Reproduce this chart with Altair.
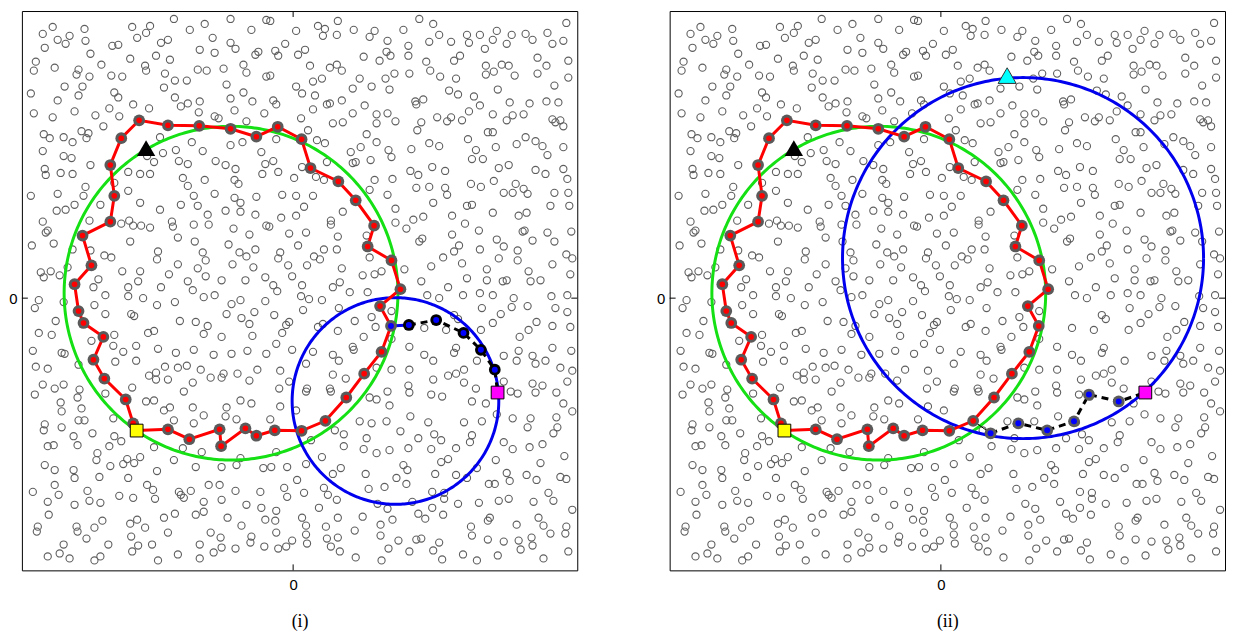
import math
import pandas as pd
import altair as alt

# ---------------- data (data units; x zero at the "0" tick) ----------------
X_DOMAIN = [-273, 286]
Y_DOMAIN = [-274, 289]

bg_tile1 = [(-120,281),(-89,276),(-242,273),(-210,271),(-162,273),(-144,274),(-252,266),(-237,260),(-225,264),(-148,267),(-157,262),(-104,270),(-209,259),(-229,256),(-182,254),(-176,255),(-133,257),(-126,260),(-250,252),(-204,246),(-94,250),(-259,238),(-261,229),(-240,232),(-164,241),(-138,244),(-124,240),(-193,235),(-216,230),(-218,225),(-205,223),(-183,224),(-172,223),(-149,234),(-148,229),(-129,226),(-119,219),(-107,219),(-96,230),(-87,229),(-230,213),(-212,213),(-264,206),(-237,199),(-216,204),(-180,207),(-176,202),(-130,212),(-119,202),(-113,193),(-106,196),(-94,198),(-161,195),(-145,191),(-185,191),(-261,186),(-242,182),(-220,188),(-199,184),(-175,183),(-95,187),(-191,173),(-251,165),(-245,161),(-231,162),(-213,168),(-206,166),(-208,161),(-222,157),(-134,162),(-102,157),(-91,148),(-118,149),(-131,146),(-252,148),(-231,143),(-223,141),(-115,138),(-106,135),(-140,137),(-147,143),(-204,134),(-166,127),(-154,125),(-144,125),(-234,126),(-250,130),(-249,124),(-222,125),(-111,121),(-89,119),(-106,113),(-209,112),(-180,116),(-166,108),(-237,105),(-264,103),(-211,103),(-100,103)]
bg_tile2 = [(-63,281),(-27,280),(-23,279),(45,279),(-42,270),(3,269),(25,274),(32,271),(30,264),(44,265),(61,270),(82,269),(77,263),(95,259),(-81,262),(-63,257),(-58,251),(-8,256),(12,250),(5,245),(-18,249),(-15,244),(-38,245),(-35,248),(-79,247),(71,243),(87,239),(94,248),(98,244),(-50,235),(-47,227),(-70,231),(17,234),(37,232),(44,235),(49,229),(-27,223),(-23,224),(20,218),(29,221),(67,221),(93,221),(-67,215),(3,213),(9,206),(22,204),(60,211),(79,213),(97,210),(-50,207),(-63,201),(-20,199),(-17,195),(-41,198),(34,195),(37,196),(49,199),(72,194),(20,190),(-59,189),(-29,186),(-79,183),(-75,181),(8,181),(60,186),(84,185),(95,186),(40,176),(50,177),(84,176),(-47,178),(15,169),(74,165),(-17,160),(-51,157),(-63,154),(24,159),(32,156),(84,157),(58,147),(68,152),(96,149),(99,142),(-32,147),(-78,138),(-68,134),(-58,130),(-20,138),(-28,135),(78,139),(60,136),(63,137),(34,137),(9,132),(-15,127),(-31,125),(23,122),(1,121),(31,119),(-59,119),(-55,115),(82,119),(100,120),(77,109),(95,104),(-79,105),(-59,101),(-37,102),(-11,104),(3,103),(20,103)]
bg_tile3 = [(127,281),(141,276),(275,277),(111,270),(147,265),(175,265),(188,265),(205,269),(220,265),(234,266),(241,260),(256,267),(261,256),(272,259),(116,254),(137,258),(159,258),(177,257),(201,260),(215,256),(193,251),(116,244),(168,244),(162,239),(134,238),(246,242),(255,234),(277,239),(102,226),(117,226),(138,229),(148,223),(164,221),(194,234),(194,225),(202,228),(210,235),(217,234),(223,224),(246,226),(277,222),(263,214),(206,210),(157,209),(166,205),(182,203),(188,194),(123,198),(124,195),(131,200),(218,197),(238,196),(255,198),(267,197),(177,188),(145,182),(155,178),(159,182),(170,179),(129,177),(125,169),(103,178),(201,185),(215,179),(221,184),(232,185),(261,180),(264,177),(269,179),(272,173),(196,167),(201,167),(176,160),(137,156),(147,153),(119,150),(184,149),(180,140),(191,140),(204,152),(225,155),(234,162),(244,158),(251,153),(256,144),(272,152),(140,132),(153,128),(118,128),(126,124),(207,131),(217,134),(244,129),(254,125),(272,130),(276,120),(124,111),(137,112),(153,111),(155,104),(179,115),(189,112),(202,118),(224,115),(232,110),(212,106),(221,106),(236,105),(263,106),(277,106)]
bg_tile4 = [(-238,88),(-229,89),(-220,94),(-194,94),(-154,96),(-134,89),(-113,94),(-96,93),(-86,84),(-252,77),(-247,68),(-249,66),(-205,78),(-173,75),(-165,78),(-161,73),(-153,73),(-144,71),(-122,77),(-121,72),(-100,74),(-263,53),(-241,55),(-222,49),(-204,48),(-190,43),(-183,41),(-164,57),(-136,47),(-137,39),(-116,61),(-99,57),(-91,46),(-88,38),(-254,26),(-244,27),(-251,21),(-235,23),(-227,31),(-172,27),(-154,27),(-156,17),(-125,24),(-116,34),(-96,30),(-106,17),(-101,8),(-88,22),(-196,19),(-201,11),(-166,11),(-166,2),(-189,3),(-151,0),(-133,11),(-119,-4),(-256,-2),(-260,-10),(-231,-4),(-200,-7),(-189,-16),(-137,-7),(-163,-16),(-160,-18),(-90,1),(-239,-23),(-256,-35),(-243,-37),(-203,-43),(-180,-37),(-146,-35),(-140,-33),(-114,-23),(-98,-24),(-86,-28),(-181,-48),(-171,-54),(-158,-48),(-136,-51),(-118,-55),(-100,-52),(-90,-36),(-262,-53),(-233,-55),(-230,-56),(-216,-67),(-179,-64),(-158,-63),(-259,-69),(-247,-71),(-129,-69),(-116,-70),(-107,-68),(-93,-72),(-145,-78),(-138,-75),(-138,-82),(-126,-82),(-252,-87),(-231,-87),(-101,-85)]
bg_tile5 = [(-53,96),(-85,74),(-68,88),(-53,87),(-38,84),(-12,81),(3,83),(11,92),(50,87),(38,78),(38,74),(-27,73),(-24,72),(-60,70),(-44,64),(-4,65),(13,66),(45,62),(-65,54),(-54,46),(-47,42),(-38,49),(-13,46),(-15,40),(5,53),(31,49),(21,42),(27,39),(44,49),(49,30),(70,23),(82,24),(89,27),(77,41),(74,63),(-61,34),(-40,31),(-5,33),(14,33),(-72,18),(-48,18),(-28,21),(-1,22),(-20,13),(-16,7),(9,13),(-79,3),(-53,-2),(-62,-6),(-28,-3),(8,2),(16,-1),(29,-2),(40,11),(47,16),(57,6),(75,6),(-67,-16),(-52,-20),(-39,-14),(-44,-26),(-19,-17),(10,-12),(46,-10),(-7,-27),(-4,-24),(-11,-35),(25,-29),(30,-26),(45,-33),(62,-23),(79,-19),(83,-29),(71,-39),(99,-13),(-72,-39),(-41,-38),(-17,-46),(-80,-57),(-62,-56),(-46,-53),(-27,-56),(-1,-52),(20,-54),(40,-57),(46,-63),(60,-49),(61,-52),(99,-41),(99,-72),(-83,-80),(-70,-76),(-72,-80),(-56,-76),(-44,-83),(-36,-72),(-13,-73),(13,-66),(-4,-84),(40,-77),(53,-81),(84,-70)]
bg_tile6 = [(141,96),(175,93),(180,94),(201,86),(227,83),(235,86),(259,93),(278,93),(103,90),(121,79),(131,82),(160,83),(173,75),(103,76),(114,70),(127,57),(130,60),(160,64),(187,68),(231,67),(233,68),(256,66),(263,57),(280,67),(205,59),(212,52),(241,58),(226,48),(226,38),(167,53),(162,47),(151,41),(188,49),(207,40),(139,32),(170,35),(112,29),(195,29),(237,27),(261,34),(275,44),(281,40),(279,24),(129,17),(156,11),(175,20),(195,18),(211,17),(215,18),(239,17),(249,18),(135,3),(147,0),(171,3),(188,5),(201,3),(222,0),(260,2),(276,3),(190,-10),(209,-16),(220,-9),(236,-8),(264,-10),(276,-14),(162,-17),(166,-21),(132,-30),(154,-32),(189,-32),(201,-25),(237,-32),(245,-24),(261,-28),(279,-29),(228,-39),(117,-49),(132,-57),(141,-63),(162,-55),(164,-50),(185,-63),(212,-58),(227,-53),(241,-58),(244,-66),(254,-63),(261,-50),(280,-53),(117,-72),(141,-82),(156,-78),(164,-76),(172,-72),(172,-85),(212,-84),(225,-63),(241,-86),(251,-88),(269,-70),(281,-73),(276,-84)]
bg_tile7 = [(-260,-97),(-240,-91),(-217,-100),(-215,-92),(-189,-96),(-162,-90),(-110,-94),(-234,-105),(-233,-114),(-213,-111),(-216,-123),(-210,-123),(-181,-121),(-148,-104),(-140,-103),(-130,-113),(-124,-110),(-101,-110),(-90,-118),(-250,-127),(-251,-133),(-233,-130),(-202,-136),(-180,-139),(-173,-144),(-185,-149),(-100,-126),(-120,-123),(-247,-149),(-241,-148),(-221,-139),(-217,-148),(-140,-150),(-111,-151),(-92,-155),(-197,-156),(-198,-163),(-167,-162),(-171,-167),(-160,-166),(-154,-160),(-120,-163),(-98,-170),(-250,-168),(-240,-173),(-221,-173),(-220,-181),(-195,-180),(-184,-169),(-166,-181),(-137,-174),(-262,-195),(-240,-188),(-236,-198),(-207,-194),(-205,-204),(-194,-206),(-175,-199),(-161,-201),(-147,-188),(-141,-193),(-139,-202),(-115,-195),(-113,-198),(-110,-201),(-103,-194),(-90,-205),(-247,-205),(-220,-208),(-246,-218),(-192,-224),(-200,-231),(-218,-230),(-217,-235),(-257,-230),(-258,-235),(-208,-242),(-164,-227),(-157,-223),(-149,-231),(-130,-221),(-119,-217),(-98,-218),(-90,-215),(-126,-236),(-163,-240),(-231,-248),(-186,-248),(-156,-249),(-142,-248),(-94,-248),(-247,-260),(-235,-257),(-225,-262),(-200,-264),(-194,-260),(-162,-255),(-136,-264),(-116,-258),(-94,-262)]
bg_tile8 = [(-53,-103),(-42,-106),(-67,-110),(-68,-119),(-57,-122),(-23,-122),(-13,-109),(3,-113),(-14,-91),(14,-91),(13,-94),(37,-91),(38,-94),(77,-100),(84,-102),(95,-94),(97,-108),(67,-124),(79,-126),(94,-124),(42,-133),(51,-137),(74,-141),(51,-149),(71,-152),(84,-156),(97,-153),(18,-143),(29,-160),(13,-167),(-6,-170),(-17,-155),(-22,-170),(-30,-171),(-53,-161),(-57,-168),(-72,-170),(-85,-188),(-74,-188),(-58,-194),(-33,-195),(-9,-191),(-6,-200),(11,-196),(4,-183),(40,-177),(48,-171),(73,-177),(76,-192),(92,-190),(31,-191),(35,-198),(44,-203),(-72,-203),(-47,-208),(-32,-211),(-17,-214),(26,-211),(85,-207),(95,-212),(-66,-221),(-52,-229),(-28,-223),(-18,-224),(9,-221),(13,-229),(45,-221),(70,-220),(88,-228),(100,-223),(-17,-236),(-1,-244),(13,-238),(33,-230),(34,-242),(45,-241),(62,-234),(88,-239),(-73,-241),(-83,-236),(-42,-240),(-43,-246),(-72,-251),(-58,-252),(-29,-250),(-15,-252),(-7,-250),(14,-247),(38,-250),(47,-255),(63,-261),(89,-264),(96,-252),(-80,-256)]
bg_tile9 = [(116,-88),(117,-95),(139,-97),(150,-99),(184,-91),(180,-104),(194,-106),(219,-94),(226,-96),(244,-95),(265,-95),(272,-106),(281,-114),(118,-119),(136,-125),(172,-125),(190,-124),(205,-117),(221,-121),(239,-121),(236,-130),(265,-120),(266,-130),(262,-136),(108,-134),(126,-141),(142,-137),(149,-143),(180,-138),(178,-145),(116,-151),(139,-152),(164,-151),(212,-145),(221,-152),(238,-150),(251,-147),(273,-159),(111,-168),(115,-173),(149,-165),(156,-162),(204,-163),(249,-166),(143,-177),(164,-178),(104,-181),(114,-187),(185,-171),(175,-181),(197,-187),(203,-187),(215,-176),(218,-184),(235,-178),(245,-183),(269,-180),(275,-182),(140,-195),(152,-196),(152,-202),(120,-205),(166,-207),(187,-206),(207,-204),(217,-202),(242,-205),(257,-196),(262,-204),(281,-213),(140,-211),(126,-217),(133,-222),(151,-218),(179,-230),(196,-224),(198,-221),(225,-228),(247,-221),(252,-229),(259,-237),(275,-230),(274,-237),(106,-244),(124,-243),(129,-242),(147,-246),(180,-239),(196,-243),(212,-245),(227,-244),(240,-241),(241,-249),(229,-253),(117,-255),(141,-254),(171,-258),(185,-264),(206,-259),(150,-263),(252,-262),(277,-255)]

# red loop (visited nodes), in order, starting after the start square
LOOP_NODES = [(-126,-132),(-104.5,-142),(-74,-132),(-72.5,-149),(-48,-131),(-37,-138.5),(-18.5,-133),(8.5,-133.5),(32.5,-123.5),(53.5,-100),(71.5,-76),(89,-54),(98.5,-28),(87.5,-8),(108,9),(99,38),(75,52),(81.5,73),(63,98.5),(45.5,117.5),(17.5,131),(8.5,160),(-15.5,172.5),(-37,162.5),(-63,170.5),(-94.5,173.5),(-126,174),(-155,179),(-173,161),(-184,134),(-180,103),(-184,77),(-212,63),(-203,33),(-220,14),(-216,-13),(-211,-25),(-191,-39),(-201,-62),(-190,-81),(-168.5,-102),(-161,-126)]

START = (-157.5, -133.3)
TARGET = (205.8, -95)
BLACK_TRIANGLE = (-148, 151)
CYAN_TRIANGLE = (66.7, 224)

# panel (i): escape path leaves the loop at a junction node
JUNCTION_I = (98.5, -28)
PATH_I = [(116.5,-27),(144,-22),(171.5,-35),(189,-52),(203,-72)]
# panel (ii)
JUNCTION_II = (32.5, -123.5)
PATH_II = [(50,-136),(78,-126),(107,-133),(134,-124),(149,-97),(179,-104)]

# circles: centre x, centre y, radius
GREEN_CIRCLE = (-62.5, 5, 168)
BLUE_CIRCLE_I = (103, -103.5, 104)
BLUE_CIRCLE_II = (82.7, 40.3, 181.7)

# ---------------- helpers ----------------
W, H = 559, 563
XS = alt.Scale(domain=X_DOMAIN, nice=False, zero=False)
YS = alt.Scale(domain=Y_DOMAIN, nice=False, zero=False)


def df(pairs):
    return pd.DataFrame({"x": [p[0] for p in pairs],
                         "y": [p[1] for p in pairs],
                         "i": list(range(len(pairs)))})


def circle_df(c, n=360):
    cx, cy, r = c
    pts = [(cx + r * math.cos(2 * math.pi * k / n), cy + r * math.sin(2 * math.pi * k / n)) for k in range(n + 1)]
    return df(pts)


def xaxis(title):
    return alt.Axis(values=[0], ticks=False, tickSize=0, domain=False, grid=False,
                    labelFont="Liberation Sans", labelFontSize=15, labelColor="black",
                    labelPadding=7, title=title, titleFont="Liberation Serif",
                    titleFontSize=18, titleFontWeight="normal", titleColor="black",
                    titlePadding=21)


YAX = alt.Axis(values=[0], ticks=False, tickSize=0, domain=False, grid=False,
               labelFont="Liberation Sans", labelFontSize=15, labelColor="black",
               labelPadding=5, title=None)


def X(title):
    return alt.X("x:Q", scale=XS, axis=xaxis(title))


def Y():
    return alt.Y("y:Q", scale=YS, axis=YAX)


def pts(data, title, **mark):
    return alt.Chart(data).mark_point(opacity=1, **mark).encode(x=X(title), y=Y())


def line(data, title, **mark):
    return alt.Chart(data).mark_line(**mark).encode(x=X(title), y=Y(), order="i:Q")


bg_all = (bg_tile1 + bg_tile2 + bg_tile3 + bg_tile4 + bg_tile5 + bg_tile6 +
          bg_tile7 + bg_tile8 + bg_tile9)
BG = df(bg_all)
ZERO = pd.DataFrame({"x": [0], "y": [0]})


def ticks(title):
    top = alt.Chart(ZERO).mark_rule(color="black", strokeWidth=1).encode(
        x=X(title), y=alt.value(0), y2=alt.value(6))
    bot = alt.Chart(ZERO).mark_rule(color="black", strokeWidth=1).encode(
        x=X(title), y=alt.value(H), y2=alt.value(H - 6))
    lef = alt.Chart(ZERO).mark_rule(color="black", strokeWidth=1).encode(
        y=Y(), x=alt.value(0), x2=alt.value(6))
    rig = alt.Chart(ZERO).mark_rule(color="black", strokeWidth=1).encode(
        y=Y(), x=alt.value(W), x2=alt.value(W - 6))
    return [top, bot, lef, rig]


def panel(title, blue_circle, junction, path, first_seg_color, first_seg_width,
          ring_color, cyan):
    layers = []
    layers.append(pts(BG, title, shape="circle", filled=False, size=52,
                      strokeWidth=1.1, color="#5e5e5e"))
    layers += ticks(title)
    layers.append(line(circle_df(GREEN_CIRCLE), title, color="#14e014", strokeWidth=3))
    layers.append(line(circle_df(blue_circle), title, color="#0000ee", strokeWidth=3))
    layers.append(line(df([START] + LOOP_NODES + [START]), title,
                       color="#ff0000", strokeWidth=3))
    layers.append(line(df([junction, path[0]]), title, color=first_seg_color,
                       strokeWidth=first_seg_width))
    layers.append(line(df(path + [TARGET]), title, color="black", strokeWidth=3,
                       strokeDash=[7, 5]))
    layers.append(pts(df(LOOP_NODES), title, shape="circle", filled=True, size=140,
                      color="#5a5a5a"))
    layers.append(pts(df(LOOP_NODES), title, shape="circle", filled=True, size=32,
                      color="#ff0000"))
    layers.append(pts(df(path), title, shape="circle", filled=True, size=140,
                      color=ring_color))
    blue_dots = path + ([junction] if first_seg_color == "#0000ee" else [])
    layers.append(pts(df(blue_dots), title, shape="circle", filled=True, size=36,
                      color="#0000ff"))
    layers.append(pts(df([BLACK_TRIANGLE]), title, shape="triangle-up", filled=True,
                      size=340, color="black"))
    if cyan:
        layers.append(pts(df([CYAN_TRIANGLE]), title, shape="triangle-up", filled=True,
                          size=330, fill="#00ffff", stroke="#333333", strokeWidth=1))
    layers.append(pts(df([START]), title, shape="square", filled=True, size=165,
                      fill="#ffff00", stroke="black", strokeWidth=1))
    layers.append(pts(df([TARGET]), title, shape="square", filled=True, size=165,
                      fill="#ff00ff", stroke="black", strokeWidth=1))
    return alt.layer(*layers).properties(width=W, height=H)


left = panel("(i)", BLUE_CIRCLE_I, JUNCTION_I, PATH_I, "#0000ee", 3, "black", False)
right = panel("(ii)", BLUE_CIRCLE_II, JUNCTION_II, PATH_II, "black", 1, "#5a5a5a", True)

chart = alt.hconcat(left, right, spacing=77).properties(
    padding={"left": 0, "top": 0, "right": 0, "bottom": 0}
).configure_view(stroke="black", strokeWidth=1)

chart.save("out.html", embed_options={"renderer": "svg", "actions": False})
